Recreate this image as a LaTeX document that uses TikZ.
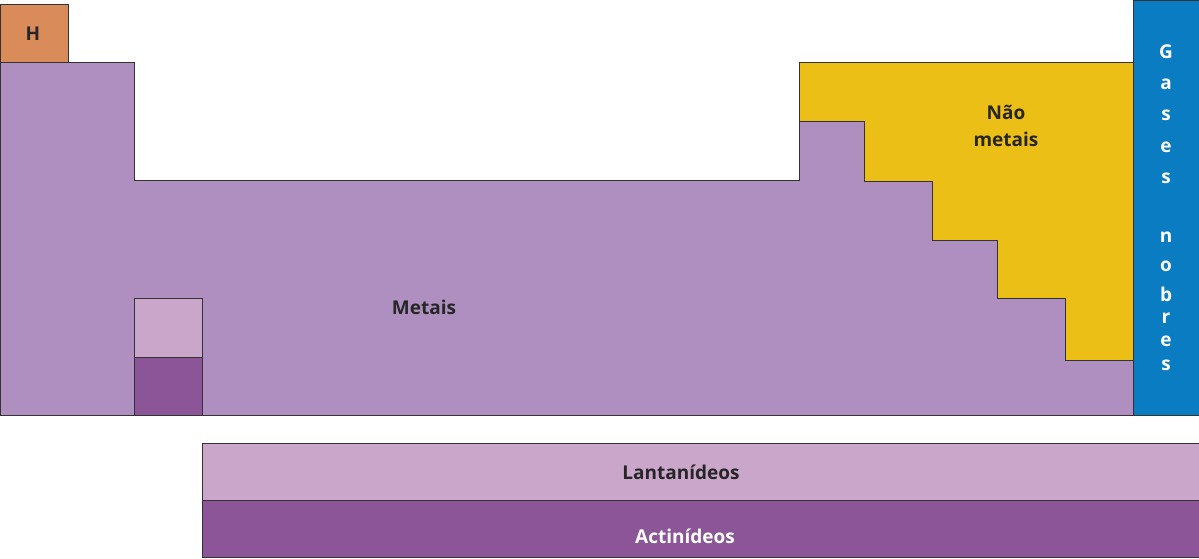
\documentclass[tikz,border=0pt]{standalone}
\usepackage{fontspec}
\setmainfont{Open Sans}
\usetikzlibrary{positioning}
\definecolor{hcol}{HTML}{D98B5A}
\definecolor{metcol}{HTML}{AF8FBF}
\definecolor{naocol}{HTML}{ECBF16}
\definecolor{gascol}{HTML}{0A7CC2}
\definecolor{lancol}{HTML}{CAA6CB}
\definecolor{actcol}{HTML}{8B5597}
\begin{document}
\begin{tikzpicture}[x=1pt,y=-1pt,
  block/.style={draw=black!80,line width=0.6pt},
  lbl/.style={font=\bfseries\fontsize{19}{27}\selectfont,text=black!85,align=center},
  wlbl/.style={lbl,text=white}]
\useasboundingbox (0,0) rectangle (1199,558);

% regions of the table
\path[block,fill=hcol] (0,4) rectangle (68,62);
\path[block,fill=metcol] (0,62) -- (134,62) -- (134,180) -- (799,180) -- (799,121)
  -- (864,121) -- (864,181) -- (932,181) -- (932,240) -- (997,240) -- (997,298)
  -- (1065,298) -- (1065,360) -- (1133,360) -- (1133,415) -- (0,415) -- cycle;
\path[block,fill=naocol] (799,62) -- (1133,62) -- (1133,360) -- (1065,360) -- (1065,298)
  -- (997,298) -- (997,240) -- (932,240) -- (932,181) -- (864,181) -- (864,121)
  -- (799,121) -- cycle;
\path[block,fill=gascol] (1133,0) rectangle (1199,415);
\path[block,fill=lancol] (134,298) rectangle (202,357);
\path[block,fill=actcol] (134,357) rectangle (202,415);
\path[block,fill=lancol] (202,443) rectangle (1199,500);
\path[block,fill=actcol] (202,500) rectangle (1199,557);

% labels
\node[lbl] (h) at (33,34) {H};
\node[lbl] (metais) at (424,307) {Metais};
\node[lbl] (nao) at (1006,126) {Não\\metais};
\node[lbl] (lant) at (681,472) {Lantanídeos};
\node[wlbl] (act) at (685,536) {Actinídeos};
\foreach \c/\y [count=\i] in {G/52,a/84,s/115,e/147,s/178,n/237,o/266,b/294,r/318,e/341,s/365}
  \node[wlbl] (gas\i) at (1166,\y) {\c};
\end{tikzpicture}
\end{document}
